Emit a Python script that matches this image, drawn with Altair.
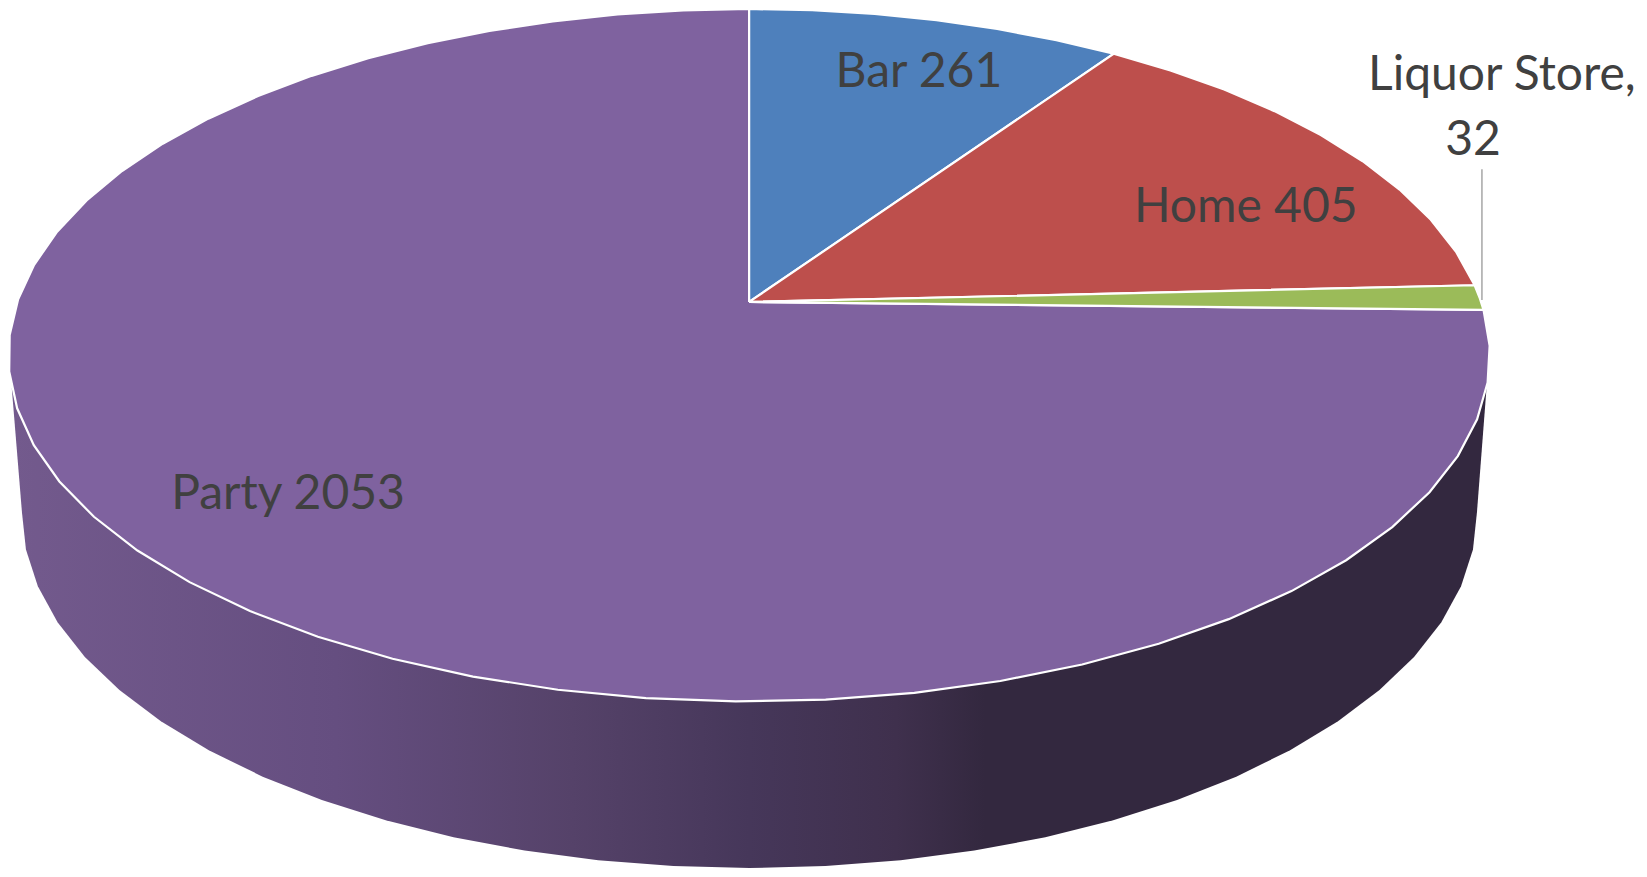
import math
import altair as alt
import pandas as pd

# ---- values
categories = ["Bar", "Home", "Liquor Store", "Party"]
values = [261, 405, 32, 2053]
colors = ["#4E80BC", "#BD4F4C", "#9BBB59", "#7F629F"]
label_lines = ["Bar 261", "Home 405", "Liquor Store,", "32", "Party 2053"]

# ---- geometry of the tilted pie, in reference pixels
CX, CY, A, B = 746.7, 354.3, 743.3, 352.3      # top face ellipse
BX, BY, BA, BB = 747.0, 514.0, 730.0, 362.0    # bottom rim ellipse
APEX = -0.154                                  # perspective shift of the pie centre
RIM_TOP_Y = 388.0
STEP = 6.0
label_x = [917, 1245, 1502, 1473, 284]
label_y = [81, 219, 84, 151, 511]
LEADER_X, LEADER_Y1, LEADER_Y2 = 1482, 165, 298
W, H = 1631, 861
X_DOM = [3, 1639.6]
Y_DOM = [877, 1]


def project(deg):
    """Clockwise angle from 12 o'clock on the true circle -> point on the top face."""
    t = math.radians(deg)
    u, v = math.sin(t), -math.cos(t)
    d = 1 + APEX * v
    return (CX + A * u * math.sqrt(1 - APEX ** 2) / d,
            CY + B * (v + APEX) / d)


total = sum(values)
wedges = []
start = 0.0
ax, ay = CX, CY + B * APEX
for name, val, col in zip(categories, values, colors):
    end = start + val / total * 360
    n = max(2, int(round((end - start) / STEP)))
    pts = [(ax, ay)] + [project(start + (end - start) * i / n) for i in range(n + 1)] + [(ax, ay)]
    wedges.append((name, col, pd.DataFrame(
        {"x": [p[0] for p in pts], "y": [p[1] for p in pts], "o": range(len(pts))})))
    start = end

# side wall: straight edge, lower half of the bottom rim, straight edge
half = math.sqrt(A**2 * (1 - ((RIM_TOP_Y - CY) / B) ** 2))
side = [(CX - half, RIM_TOP_Y)]
d = 180.0
while d >= 0:
    t = math.radians(d)
    side.append((BX + BA * math.cos(t), BY + BB * math.sin(t)))
    d -= STEP
side.append((CX + half, RIM_TOP_Y))
side_df = pd.DataFrame({"x": [p[0] for p in side], "y": [p[1] for p in side], "o": range(len(side))})

xs = alt.Scale(domain=X_DOM, nice=False, zero=False)
ys = alt.Scale(domain=Y_DOM, nice=False, zero=False)
X = alt.X("x:Q", scale=xs, axis=None)
Y = alt.Y("y:Q", scale=ys, axis=None)

gradient = alt.LinearGradient(
    gradient="linear", x1=0, x2=1, y1=0, y2=0,
    stops=[
        alt.GradientStop(offset=0.0, color="#735A8D"),
        alt.GradientStop(offset=0.22, color="#654E80"),
        alt.GradientStop(offset=0.38, color="#554269"),
        alt.GradientStop(offset=0.50, color="#46375A"),
        alt.GradientStop(offset=0.60, color="#3F304D"),
        alt.GradientStop(offset=0.66, color="#33283F"),
        alt.GradientStop(offset=1.0, color="#33283F"),
    ],
)

layers = [
    alt.Chart(side_df).mark_line(fill=gradient, strokeWidth=0, clip=False)
    .encode(x=X, y=Y, order="o:Q")
]
# Party first so that the smaller wedges sit on top of its shared edges
for name, col, df in [wedges[3], wedges[0], wedges[1], wedges[2]]:
    layers.append(
        alt.Chart(df).mark_line(fill=col, stroke="white", strokeWidth=2.2, strokeJoin="miter")
        .encode(x=X, y=Y, order="o:Q")
    )

layers.append(
    alt.Chart(pd.DataFrame({"x": [LEADER_X], "y": [LEADER_Y1], "y2": [LEADER_Y2]}))
    .mark_rule(color="#A6A6A6", strokeWidth=1.5)
    .encode(x=X, y=Y, y2="y2:Q")
)
layers.append(
    alt.Chart(pd.DataFrame({"x": label_x, "y": label_y, "t": label_lines}))
    .mark_text(font="Lato", fontSize=48, color="#404040", align="center", baseline="alphabetic")
    .encode(x=X, y=Y, text="t:N")
)

chart = (
    alt.layer(*layers)
    .properties(width=W, height=H, padding=0, autosize=alt.AutoSizeParams(type="none"))
    .configure_view(stroke=None)
)
chart.save("out.html", embed_options={"renderer": "svg", "actions": False})
